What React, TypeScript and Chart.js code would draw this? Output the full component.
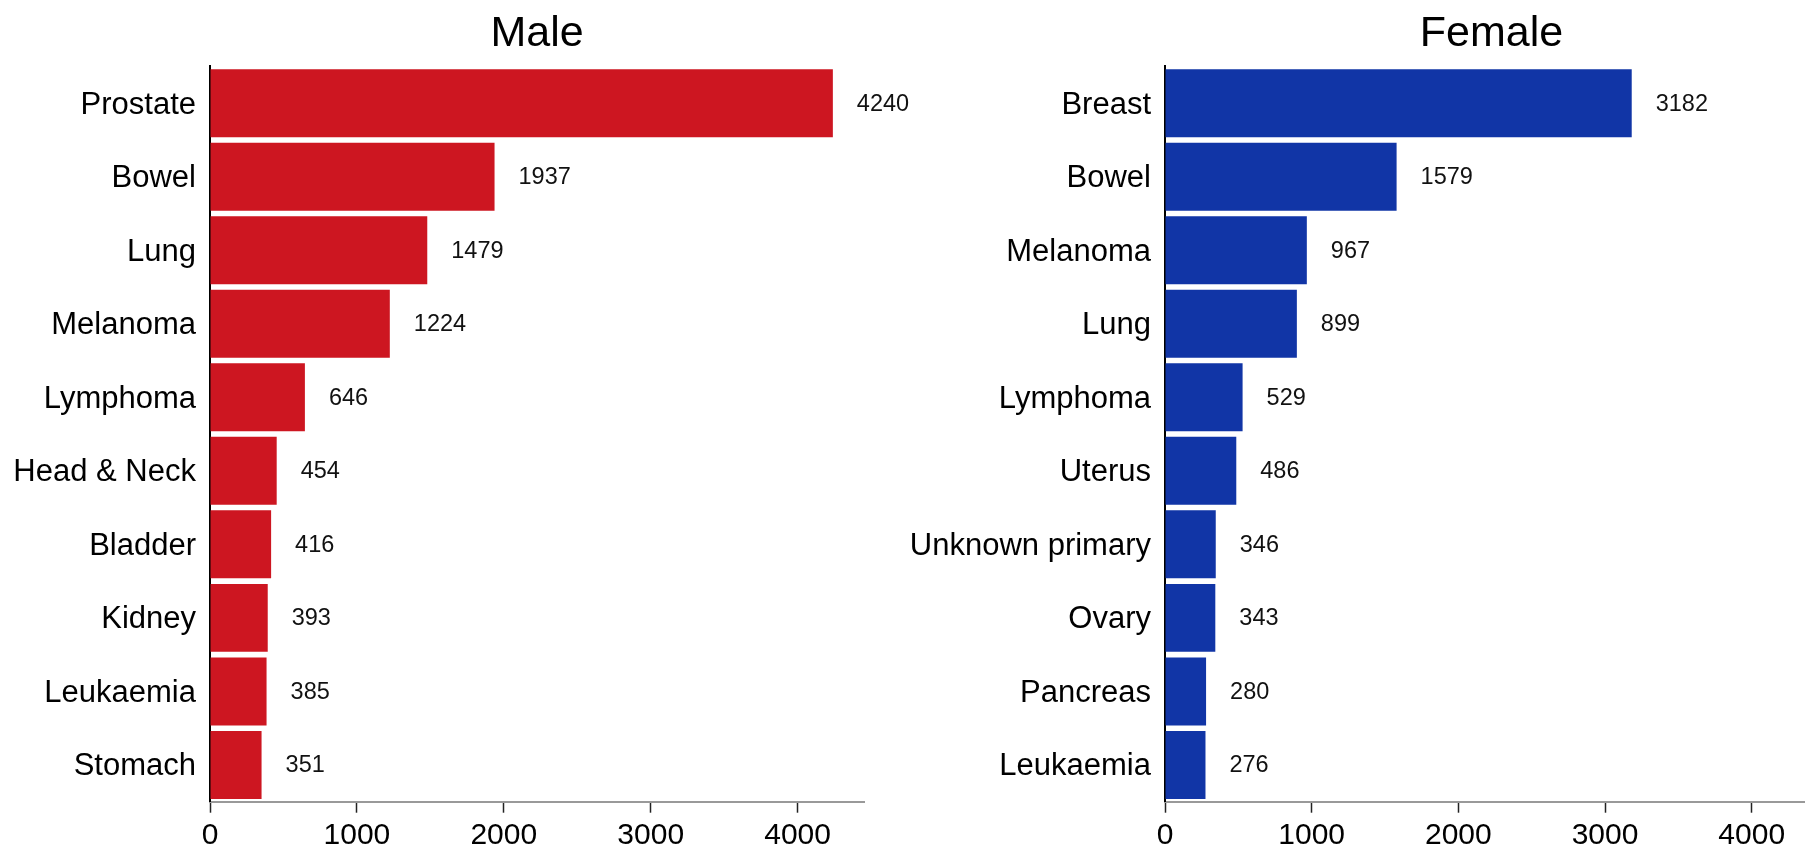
import React, { useEffect, useRef } from "react";
import { Chart, registerables } from "chart.js";

Chart.register(...registerables);

const maleCategories = ["Prostate", "Bowel", "Lung", "Melanoma", "Lymphoma", "Head & Neck", "Bladder", "Kidney", "Leukaemia", "Stomach"];
const maleValues = [4240, 1937, 1479, 1224, 646, 454, 416, 393, 385, 351];
const femaleCategories = ["Breast", "Bowel", "Melanoma", "Lung", "Lymphoma", "Uterus", "Unknown primary", "Ovary", "Pancreas", "Leukaemia"];
const femaleValues = [3182, 1579, 967, 899, 529, 486, 346, 343, 280, 276];
const xTickValues = [0, 1000, 2000, 3000, 4000];
const xMax = 4452;

const FONT = "'Liberation Sans', Arial, Helvetica, sans-serif";

const valueLabels = {
  id: "valueLabels",
  afterDatasetsDraw(chart: any) {
    const ctx = chart.ctx;
    const ds = chart.data.datasets[0];
    const meta = chart.getDatasetMeta(0);
    ctx.save();
    ctx.font = `23.5px ${FONT}`;
    ctx.fillStyle = "#111";
    ctx.textAlign = "left";
    ctx.textBaseline = "middle";
    meta.data.forEach((bar: any, i: number) => {
      ctx.fillText(String(ds.data[i]), bar.x + 24, bar.y + 1);
    });
    ctx.restore();
  },
};

function makeConfig(title: string, labels: string[], values: number[], color: string, yWidth: number, padRight: number): any {
  return {
    type: "bar",
    data: {
      labels,
      datasets: [
        {
          data: values,
          backgroundColor: color,
          borderWidth: 0,
          barPercentage: 0.924,
          categoryPercentage: 1.0,
        },
      ],
    },
    plugins: [valueLabels],
    options: {
      indexAxis: "y",
      responsive: false,
      animation: false,
      devicePixelRatio: 1,
      layout: { padding: { left: 0, right: padRight, top: 0, bottom: 0 } },
      plugins: {
        legend: { display: false },
        tooltip: { enabled: false },
        title: {
          display: true,
          text: title,
          fullSize: false,
          color: "#000",
          font: { family: FONT, size: 43, weight: "normal", lineHeight: 1.2 },
          padding: { top: 8, bottom: 6.8 },
        },
      },
      scales: {
        x: {
          type: "linear",
          min: 0,
          max: xMax,
          afterBuildTicks: (scale: any) => {
            scale.ticks = xTickValues.map((v) => ({ value: v }));
          },
          ticks: {
            color: "#000",
            padding: 5,
            font: { family: FONT, size: 30 },
            maxRotation: 0,
            autoSkip: false,
            callback: (v: any) => String(v),
          },
          grid: {
            display: true,
            drawOnChartArea: false,
            drawTicks: true,
            tickLength: 11,
            tickColor: "#222",
            tickWidth: 1.5,
          },
          border: { display: true, color: "#999", width: 2 },
          afterFit: (scale: any) => {
            scale.height = 45.3;
          },
        },
        y: {
          type: "category",
          ticks: {
            color: "#000",
            padding: 14,
            labelOffset: 2,
            font: { family: FONT, size: 31 },
            autoSkip: false,
          },
          grid: { display: false, drawTicks: false },
          border: { display: true, color: "#000", width: 2 },
          afterFit: (scale: any) => {
            scale.width = yWidth;
          },
        },
      },
    },
  };
}

function BarPanel(props: { title: string; labels: string[]; values: number[]; color: string; left: number; width: number; yWidth: number; padRight: number }) {
  const ref = useRef<HTMLCanvasElement | null>(null);
  useEffect(() => {
    if (!ref.current) return;
    const chart = new Chart(ref.current, makeConfig(props.title, props.labels, props.values, props.color, props.yWidth, props.padRight));
    return () => chart.destroy();
  }, []);
  return (
    <canvas
      ref={ref}
      width={props.width}
      height={847}
      style={{ position: "absolute", left: props.left, top: 0, width: props.width, height: 847 }}
    />
  );
}

export default function App() {
  return (
    <div style={{ position: "fixed", left: 0, top: 0, width: 1805, height: 847, overflow: "hidden", background: "#fff" }}>
      <BarPanel title="Male" labels={maleCategories} values={maleValues} color="#CD1621" left={0} width={950} yWidth={210} padRight={86} />
      <BarPanel title="Female" labels={femaleCategories} values={femaleValues} color="#1135A6" left={905} width={950} yWidth={260} padRight={37} />
    </div>
  );
}
